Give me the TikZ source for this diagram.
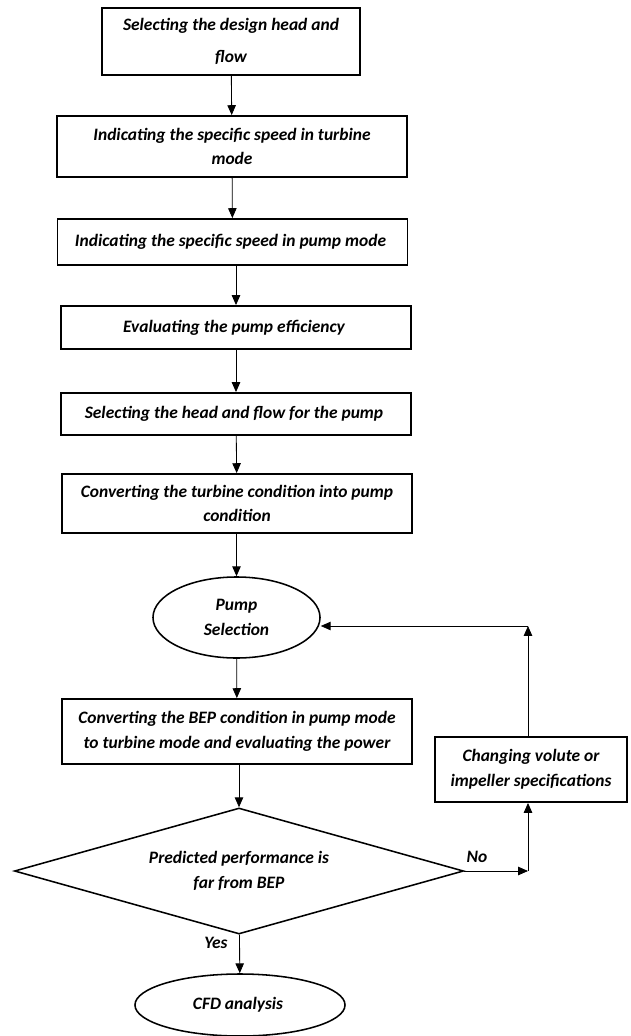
\documentclass[tikz,border=0pt]{standalone}
\usepackage{fontspec}
\setmainfont{Carlito}
\usetikzlibrary{shapes.geometric,arrows.meta}

\begin{document}
\begin{tikzpicture}[x=0.025cm,y=-0.025cm,
		font=\fontsize{12.4}{17.5}\selectfont\bfseries\itshape,
		stepbox/.style={align=center,rectangle,draw=black,line width=1.3pt,inner sep=2pt,minimum width=8.75cm},
		oval/.style={align=center,ellipse,draw=black,line width=1.1pt,inner sep=0pt},
		decide/.style={align=center,diamond,aspect=3.56,draw=black,line width=1.1pt,inner sep=0pt},
		flow/.style={draw=black,line width=0.6pt,-{Triangle[length=7pt,width=6pt]}}]
	\useasboundingbox (0,0) rectangle (630,1036);
	\node (design)[stepbox,minimum width=6.45cm,minimum height=1.675cm] at (231,41.5){
		Selecting the design head and\\[5.5pt]
		flow
	};
	\node (turbine)[stepbox,minimum height=1.525cm] at (232,146.5){
		Indicating the specific speed in turbine\\
		mode
	};
	\node (pumpspeed)[stepbox,minimum height=1.15cm] at (232.5,242){
		Indicating the specific speed in pump mode
	};
	\node (efficiency)[stepbox,minimum height=1.075cm] at (236,327.5){
		Evaluating the pump efficiency
	};
	\node (headflow)[stepbox,minimum height=1.05cm] at (236,414){
		Selecting the head and flow for the pump
	};
	\node (convert)[stepbox,minimum height=1.475cm] at (237,503.5){
		Converting the turbine condition into pump\\
		condition
	};
	\node (selection)[oval,minimum width=4.175cm,minimum height=2.025cm] at (236.5,617.5){
		Pump\\
		Selection
	};
	\node (bep)[stepbox,minimum height=1.625cm] at (237,731.5){
		Converting the BEP condition in pump mode\\
		to turbine mode and evaluating the power
	};
	\node (far)[decide,minimum width=11.225cm,minimum height=3.15cm] at (239,871){
		Predicted performance is\\
		far from BEP
	};
	\node (changing)[stepbox,minimum width=4.8cm,minimum height=1.625cm] at (531,769.5){
		Changing volute or\\
		impeller specifications
	};
	\node (cfd)[oval,minimum width=5.25cm,minimum height=1.55cm] at (240,1005){
		CFD analysis
	};
	\coordinate (nobend) at (528,871);
	\coordinate (backbend) at (528,626);
	\node (no) at (477,857){No};
	\node (yes) at (216,943){Yes};

	\draw[flow] (design) -- (turbine);
	\draw[flow] (turbine) -- (pumpspeed);
	\draw[flow] (pumpspeed.south -| efficiency) -- (efficiency);
	\draw[flow] (efficiency) -- (headflow);
	\draw[flow] (headflow) -- (convert);
	\draw[flow] (convert.south -| selection) -- (selection);
	\draw[flow] (selection) -- (bep);
	\draw[flow] (bep.south -| far) -- (far);
	\draw[flow] (far) -- (cfd);
	\draw[flow] (far.east) -- (nobend);
	\draw[flow] (nobend) -- (changing.south -| nobend);
	\draw[flow] (changing.north -| backbend) -- (backbend);
	\draw[flow] (backbend) -- (selection.east |- backbend);
\end{tikzpicture}
\end{document}
